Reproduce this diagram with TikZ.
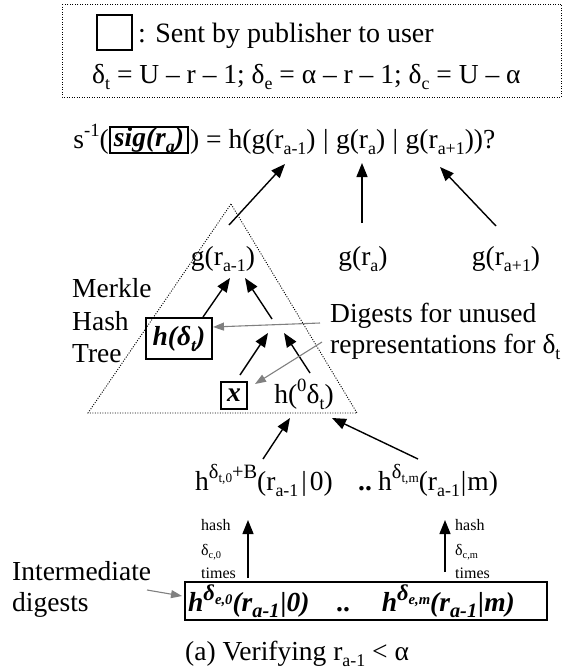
\documentclass[tikz,border=0pt]{standalone}
\usepackage{fontspec}
\setmainfont{Liberation Serif}
\usepackage{graphicx}
\usetikzlibrary{arrows.meta}
\newcommand\dn[1]{\raisebox{-0.22em}{\scalebox{0.65}{#1}}}
\newcommand\up[1]{\raisebox{0.42em}{\scalebox{0.68}{#1}}}
\newcommand\upw[1]{\raisebox{0.42em}{\scalebox{0.74}{#1}}}
\newcommand\dnb[1]{\raisebox{-0.22em}{\scalebox{0.74}{#1}}}
\newcommand\upb[1]{\raisebox{0.40em}{\scalebox{0.82}{#1}}}
\newcommand\bi[1]{\textbf{\textit{#1}}}
\newcommand\vb{\hspace{7.5pt}|\hspace{7.5pt}}
\newcommand\vbs{\hspace{3pt}|\hspace{3pt}}
\newcommand\vbt{\hspace{1pt}|\hspace{1pt}}
\begin{document}
\begin{tikzpicture}[x=1pt,y=-1pt,
  txt/.style={font=\fontsize{27.5}{33}\selectfont, inner sep=0pt},
  sml/.style={font=\fontsize{16}{18}\selectfont, inner sep=0pt},
  arr/.style={line width=1.4pt, -{Triangle[length=14pt,width=11pt]}},
  garr/.style={draw=gray, line width=1.1pt, -{Triangle[length=11pt,width=8pt]}},
  dotline/.style={dash pattern=on 1pt off 1.5pt, line width=0.9pt},
  sqbox/.style={draw, line width=1.3pt, inner sep=0pt}]
\useasboundingbox (0,0) rectangle (565,672);
% legend
\draw[dotline] (62,4) rectangle (561,97);
\node[sqbox, minimum width=35pt, minimum height=35pt] (legsq) at (114.5,32.5) {};
\node[txt, font=\fontsize{28}{33}\selectfont, anchor=base west] (legtxt) at (138,42) {: Sent by publisher to user};
\node[txt, anchor=base west] (legdef) at (92,83) {δ\dn{t} = U – r – 1; δ\dn{e} = α – r – 1; δ\dn{c} = U – α};
% equation
\node[txt, anchor=base east] (eql) at (109,148) {s\up{-1}(};
\node[sqbox, line width=1.2pt, minimum width=78pt, minimum height=26pt, txt] (sig) at (149,140) {\bi{sig(r\dn{a})}};
\node[txt, anchor=base west] (eqr) at (190,148) {) = h(g(r\dn{a-1})\vb g(r\dn{a})\vb g(r\dn{a+1}))?};
% tree
\draw[dotline] (231,204) -- (88,413) -- (357,413) -- cycle;
\node[txt, anchor=base] (gam) at (223,265) {g(r\dn{a-1})};
\node[txt, anchor=base] (ga) at (363,265) {g(r\dn{a})};
\node[txt, anchor=base] (gap) at (506,265) {g(r\dn{a+1})};
\node[txt, anchor=base west] (merkle) at (72,297) {Merkle};
\node[txt, anchor=base west] (hash) at (72,330) {Hash};
\node[txt, anchor=base west] (tree) at (72,362) {Tree};
\node[sqbox, minimum width=66pt, minimum height=41pt, txt] (hdt) at (179,338.5) {\bi{h(δ\dn{t})}};
\node[sqbox, minimum width=26pt, minimum height=27pt, txt] (xb) at (234,395.5) {\bi{x}};
\node[txt, anchor=base] (h0) at (304,403) {h(\up{0}δ\dn{t})};
\node[txt, anchor=base west] (dig1) at (330,322) {Digests for unused};
\node[txt, anchor=base west] (dig2) at (330,353) {representations for δ\dn{t}};
% bottom rows
\node[txt, anchor=base west] (hl) at (195,490) {h\upw{δ\dn{t,0}+B}(r\dn{a-1}\vbs 0)};
\node[txt, anchor=base] (hdots) at (365,490) {\textbf{..}};
\node[txt, anchor=base west] (hr) at (378,490) {h\upw{δ\dn{t,m}}(r\dn{a-1}\vbt m)};
\node[sml, anchor=base west] (hashl) at (201,530) {hash};
\node[sml, anchor=base west] (dcl) at (201,555) {δ\dn{c,0}};
\node[sml, anchor=base west] (timesl) at (201,578) {times};
\node[sml, anchor=base west] (hashr) at (455,530) {hash};
\node[sml, anchor=base west] (dcr) at (455,555) {δ\dn{c,m}};
\node[sml, anchor=base west] (timesr) at (455,578) {times};
\draw[line width=1.3pt] (185,582) rectangle (547,620);
\node[txt, anchor=base west] (bl) at (188,611) {\bi{h\upb{δ\dn{e,0}}(r\dnb{a-1}\hspace{1pt}|0)}};
\node[txt, anchor=base] (bdots) at (343,611) {\textbf{..}};
\node[txt, anchor=base east] (br) at (515,611) {\bi{h\upb{δ\dn{e,m}}(r\dnb{a-1}\hspace{1pt}|m)}};
\node[txt, anchor=base west] (inter) at (12,580) {Intermediate};
\node[txt, anchor=base west] (digs) at (12,611) {digests};
\node[txt, anchor=base west] (cap) at (185,660) {(a) Verifying r\dn{a-1} < α};
% connector end points
\coordinate (t1) at (229,225); \coordinate (e1) at (285,164);
\coordinate (t2) at (362,223); \coordinate (e2) at (362,163);
\coordinate (t3) at (496,226); \coordinate (e3) at (440,167);
\coordinate (a1) at (203,317); \coordinate (b1) at (230,278);
\coordinate (a2) at (272,319); \coordinate (b2) at (245,278);
\coordinate (a3) at (240,375); \coordinate (b3) at (268,333);
\coordinate (a4) at (310,373); \coordinate (b4) at (284,333);
\coordinate (c1) at (263,459); \coordinate (d1) at (290,418);
\coordinate (c2) at (418,459); \coordinate (d2) at (332,418);
\coordinate (v1) at (248,578); \coordinate (w1) at (248,520);
\coordinate (v2) at (445,572); \coordinate (w2) at (445,520);
\coordinate (g1) at (320,323); \coordinate (k1) at (213,327);
\coordinate (g2) at (322,342); \coordinate (k2) at (255,384);
\coordinate (g3) at (147,590); \coordinate (k3) at (182,596);
\draw[arr] (t1) -- (e1);
\draw[arr] (t2) -- (e2);
\draw[arr] (t3) -- (e3);
\draw[arr] (a1) -- (b1);
\draw[arr] (a2) -- (b2);
\draw[arr] (a3) -- (b3);
\draw[arr] (a4) -- (b4);
\draw[arr] (c1) -- (d1);
\draw[arr] (c2) -- (d2);
\draw[arr] (v1) -- (w1);
\draw[arr] (v2) -- (w2);
\draw[garr] (g1) -- (k1);
\draw[garr] (g2) -- (k2);
\draw[garr] (g3) -- (k3);
\end{tikzpicture}
\end{document}
